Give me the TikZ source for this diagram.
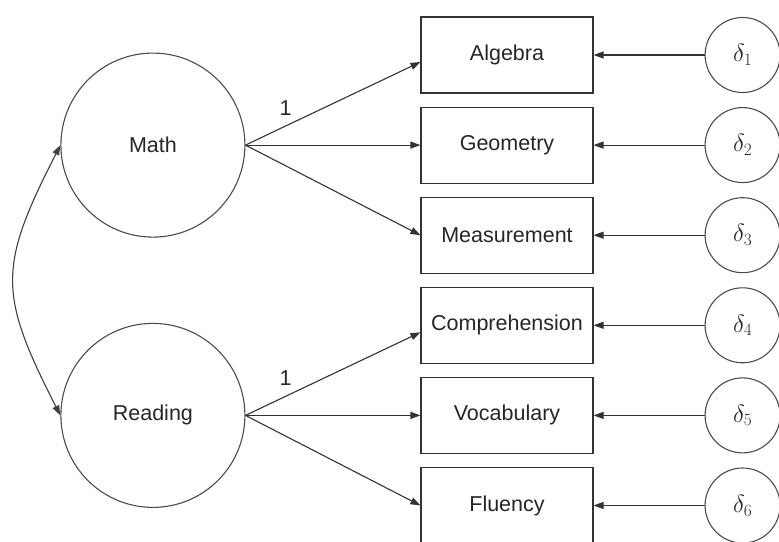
\documentclass[tikz,border=0pt]{standalone}
\usepackage{fontspec}
\setmainfont{Liberation Sans}
\usepackage{tikz}
\usetikzlibrary{arrows.meta,positioning}

\begin{document}
\begin{tikzpicture}[
    x=1pt, y=1pt,
    font=\fontsize{21.5}{25}\selectfont,
    every node/.style={text=black!85},
    latent/.style={draw=black!70, line width=1.1pt, circle, minimum size=184pt},
    indic/.style={draw=black!80, line width=1.1pt, minimum width=172pt, minimum height=76pt, align=center},
    err/.style={draw=black!70, line width=1.1pt, circle, minimum size=75pt, inner sep=0pt, font=\fontsize{25}{28}\selectfont},
    arrow/.style={-{Triangle[length=10pt,width=7pt]}, line width=1.1pt, draw=black!80},
    covar/.style={{Triangle[length=10pt,width=7pt]}-{Triangle[length=10pt,width=7pt]}, line width=1.1pt, draw=black!75}
  ]
  \useasboundingbox (0,0) rectangle (779,541);

  % observed indicators
  \node[indic] (alg) at (507,486) {Algebra};
  \node[indic, below=13pt of alg] (geo) {Geometry};
  \node[indic, below=13pt of geo] (meas) {Measurement};
  \node[indic, below=13pt of meas] (comp) {Comprehension};
  \node[indic, below=13pt of comp] (voc) {Vocabulary};
  \node[indic, below=13pt of voc] (flu) {Fluency};

  % measurement errors
  \node[err, right=111pt of alg] (d1) {$\delta_1$};
  \node[err, right=111pt of geo] (d2) {$\delta_2$};
  \node[err, right=111pt of meas] (d3) {$\delta_3$};
  \node[err, right=111pt of comp] (d4) {$\delta_4$};
  \node[err, right=111pt of voc] (d5) {$\delta_5$};
  \node[err, right=111pt of flu] (d6) {$\delta_6$};

  % factors
  \node[latent, left=175pt of geo] (math) {Math};
  \node[latent, left=175pt of voc] (read) {Reading};

  \draw[arrow] (math.east) -- node[pos=0.23, above=7pt] {1} ([yshift=-7pt]alg.west);
  \draw[arrow] (math.east) -- (geo.west);
  \draw[arrow] (math.east) -- (meas.west);
  \draw[arrow] (read.east) -- node[pos=0.23, above=7pt] {1} ([yshift=-7pt]comp.west);
  \draw[arrow] (read.east) -- (voc.west);
  \draw[arrow] (read.east) -- (flu.west);

  \draw[arrow] (d1) -- (alg);
  \draw[arrow] (d2) -- (geo);
  \draw[arrow] (d3) -- (meas);
  \draw[arrow] (d4) -- (comp);
  \draw[arrow] (d5) -- (voc);
  \draw[arrow] (d6) -- (flu);

  \draw[covar] (math.west) to[out=243, in=117, looseness=1.3] (read.west);
\end{tikzpicture}
\end{document}
